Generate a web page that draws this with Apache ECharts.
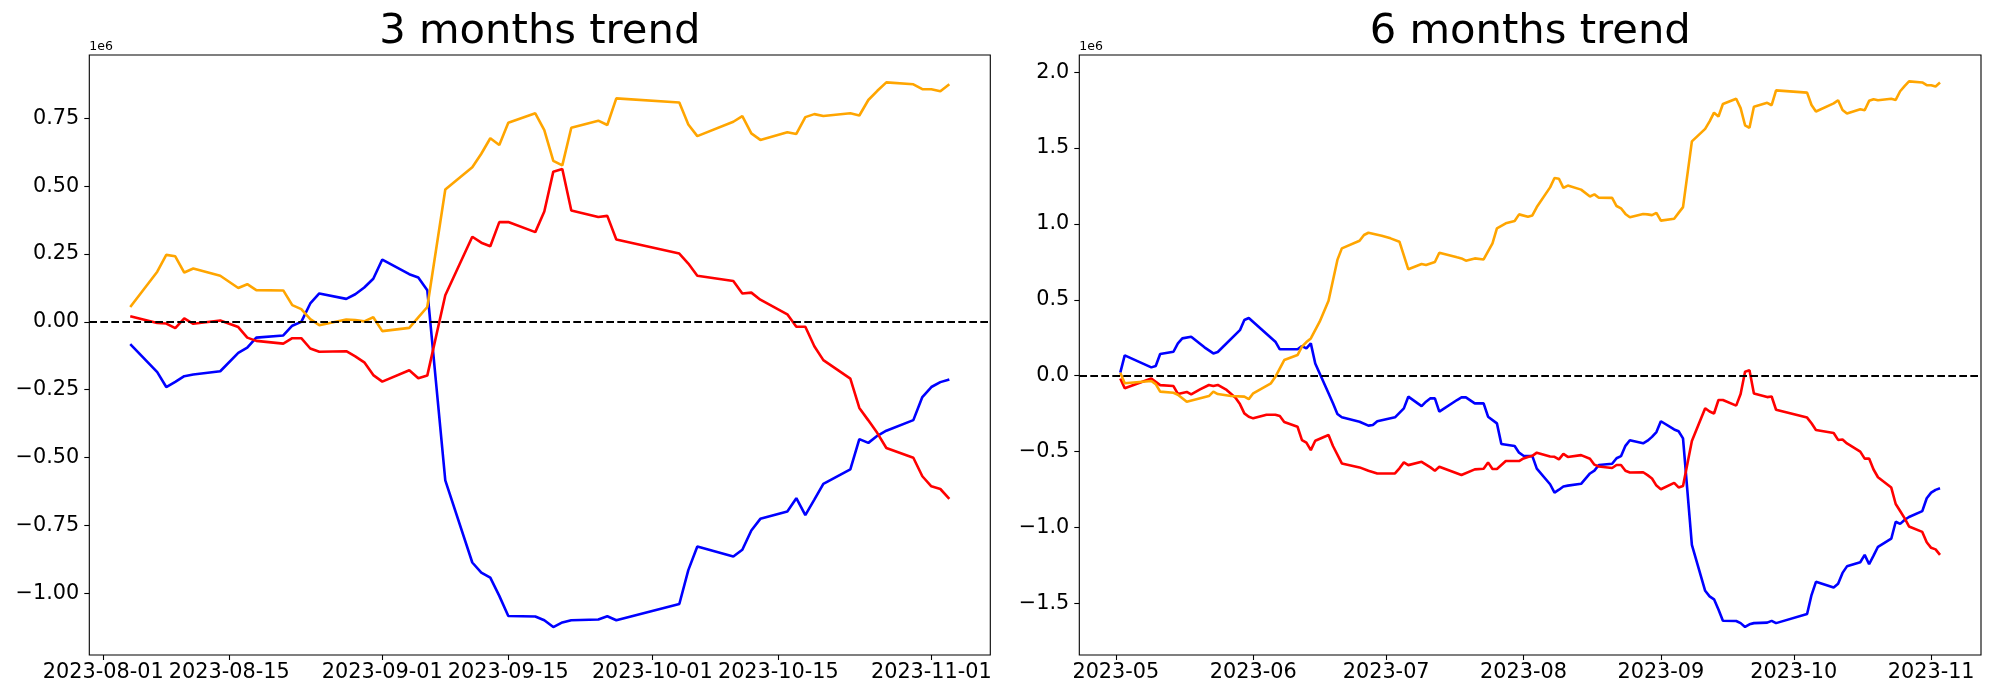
<!DOCTYPE html>
<html>
<head>
<meta charset="utf-8">
<script src="https://cdn.jsdelivr.net/npm/echarts@6/dist/echarts.min.js"></script>
<style>
html,body{margin:0;padding:0;background:#ffffff;}
#chart{width:2000px;height:700px;}
</style>
</head>
<body>
<div id="chart"></div>
<script>
// ---------------- data: 3 months trend (values in units of 1e6) ----------------
const threeMonthDates = ['2023-08-04','2023-08-07','2023-08-08','2023-08-09','2023-08-10','2023-08-11','2023-08-14','2023-08-16','2023-08-17','2023-08-18','2023-08-21','2023-08-22','2023-08-23','2023-08-24','2023-08-25','2023-08-28','2023-08-29','2023-08-30','2023-08-31',
  '2023-09-01','2023-09-04','2023-09-05','2023-09-06','2023-09-08','2023-09-11','2023-09-12','2023-09-13','2023-09-14','2023-09-15','2023-09-18','2023-09-19','2023-09-20','2023-09-21','2023-09-22','2023-09-25','2023-09-26','2023-09-27',
  '2023-10-04','2023-10-05','2023-10-06','2023-10-10','2023-10-11','2023-10-12','2023-10-13','2023-10-16','2023-10-17','2023-10-18','2023-10-19','2023-10-20','2023-10-23','2023-10-24','2023-10-25','2023-10-26','2023-10-27','2023-10-30','2023-10-31',
  '2023-11-01','2023-11-02','2023-11-03'];
const threeMonthBlue = [-0.082,-0.185,-0.240,-0.221,-0.200,-0.194,-0.182,-0.114,-0.095,-0.058,-0.050,-0.014,0.000,0.068,0.105,0.085,0.102,0.127,0.159,
  0.230,0.176,0.164,0.117,-0.584,-0.887,-0.924,-0.943,-1.010,-1.084,-1.086,-1.100,-1.125,-1.108,-1.100,-1.097,-1.085,-1.100,
  -1.040,-0.915,-0.828,-0.865,-0.840,-0.769,-0.726,-0.699,-0.650,-0.712,-0.655,-0.597,-0.544,-0.432,-0.446,-0.420,-0.401,-0.362,-0.277,
  -0.240,-0.222,-0.212];
const threeMonthRed = [0.021,-0.004,-0.006,-0.023,0.013,-0.007,0.005,-0.019,-0.058,-0.070,-0.080,-0.060,-0.060,-0.098,-0.110,-0.108,-0.127,-0.149,-0.196,
  -0.220,-0.178,-0.208,-0.198,0.098,0.314,0.292,0.279,0.368,0.368,0.331,0.407,0.554,0.564,0.411,0.387,0.391,0.304,
  0.252,0.215,0.170,0.151,0.105,0.108,0.082,0.028,-0.018,-0.018,-0.090,-0.141,-0.209,-0.317,-0.363,-0.410,-0.465,-0.501,-0.569,
  -0.606,-0.616,-0.652];
const threeMonthOrange = [0.055,0.185,0.247,0.242,0.182,0.197,0.170,0.125,0.139,0.117,0.116,0.062,0.047,0.010,-0.012,0.009,0.007,0.002,0.017,
  -0.034,-0.022,0.017,0.055,0.488,0.570,0.620,0.677,0.652,0.734,0.769,0.707,0.594,0.577,0.716,0.742,0.726,0.824,
  0.809,0.728,0.685,0.738,0.759,0.695,0.671,0.699,0.693,0.755,0.766,0.759,0.769,0.761,0.818,0.852,0.883,0.876,0.858,
  0.858,0.850,0.876];

// ---------------- data: 6 months trend (values in units of 1e6) ----------------
const sixMonthBlueDates = ['2023-05-02','2023-05-03','2023-05-09','2023-05-10','2023-05-11','2023-05-14','2023-05-15','2023-05-16','2023-05-18','2023-05-21','2023-05-23','2023-05-24','2023-05-29','2023-05-30','2023-05-31',
  '2023-06-06','2023-06-07','2023-06-11','2023-06-12','2023-06-13','2023-06-14','2023-06-15','2023-06-18','2023-06-19','2023-06-20','2023-06-21','2023-06-25','2023-06-27','2023-06-28','2023-06-29',
  '2023-07-03','2023-07-05','2023-07-06','2023-07-09','2023-07-10','2023-07-11','2023-07-12','2023-07-13','2023-07-17','2023-07-18','2023-07-19','2023-07-21','2023-07-23','2023-07-24','2023-07-26','2023-07-27','2023-07-30','2023-07-31',
  '2023-08-01','2023-08-02','2023-08-03'].concat(threeMonthDates);
const sixMonthBlue = [0.020,0.134,0.055,0.064,0.143,0.158,0.213,0.246,0.257,0.187,0.147,0.156,0.300,0.367,0.380,
  0.224,0.174,0.174,0.195,0.180,0.213,0.081,-0.116,-0.182,-0.252,-0.274,-0.303,-0.329,-0.325,-0.300,
  -0.274,-0.215,-0.138,-0.200,-0.171,-0.149,-0.149,-0.237,-0.160,-0.143,-0.143,-0.182,-0.182,-0.270,-0.314,-0.450,-0.463,-0.507,
  -0.527,-0.529,-0.530,
  -0.612,-0.715,-0.770,-0.751,-0.730,-0.724,-0.712,-0.644,-0.625,-0.588,-0.580,-0.544,-0.530,-0.462,-0.425,-0.445,-0.428,-0.403,-0.371,
  -0.300,-0.354,-0.366,-0.413,-1.114,-1.417,-1.454,-1.473,-1.540,-1.614,-1.616,-1.630,-1.655,-1.638,-1.630,-1.627,-1.615,-1.630,
  -1.570,-1.445,-1.358,-1.395,-1.370,-1.299,-1.256,-1.229,-1.180,-1.242,-1.185,-1.127,-1.074,-0.962,-0.976,-0.950,-0.931,-0.892,-0.807,
  -0.770,-0.752,-0.742];

const sixMonthRedDates = ['2023-05-02','2023-05-03','2023-05-09','2023-05-11','2023-05-14','2023-05-15','2023-05-17','2023-05-18','2023-05-20','2023-05-22','2023-05-23','2023-05-24','2023-05-26','2023-05-28','2023-05-29','2023-05-30','2023-05-31',
  '2023-06-01','2023-06-04','2023-06-06','2023-06-07','2023-06-08','2023-06-11','2023-06-12','2023-06-13','2023-06-14','2023-06-15','2023-06-18','2023-06-19','2023-06-21','2023-06-25','2023-06-27','2023-06-29',
  '2023-07-03','2023-07-04','2023-07-05','2023-07-06','2023-07-09','2023-07-11','2023-07-12','2023-07-13','2023-07-18','2023-07-21','2023-07-23','2023-07-24','2023-07-25','2023-07-26','2023-07-28','2023-07-31',
  '2023-08-01','2023-08-02','2023-08-03'].concat(threeMonthDates);
const sixMonthRed = [-0.018,-0.083,-0.018,-0.062,-0.068,-0.120,-0.107,-0.123,-0.090,-0.061,-0.068,-0.061,-0.094,-0.145,-0.187,-0.248,-0.270,
  -0.281,-0.257,-0.257,-0.266,-0.305,-0.336,-0.424,-0.441,-0.490,-0.428,-0.391,-0.463,-0.578,-0.604,-0.626,-0.644,
  -0.644,-0.610,-0.571,-0.589,-0.567,-0.604,-0.626,-0.600,-0.654,-0.617,-0.613,-0.571,-0.615,-0.615,-0.562,-0.562,
  -0.545,-0.535,-0.528,
  -0.507,-0.532,-0.534,-0.551,-0.515,-0.535,-0.523,-0.547,-0.586,-0.598,-0.608,-0.588,-0.588,-0.626,-0.638,-0.636,-0.655,-0.677,-0.724,
  -0.748,-0.706,-0.736,-0.726,-0.430,-0.214,-0.236,-0.249,-0.160,-0.160,-0.197,-0.121,0.026,0.036,-0.117,-0.141,-0.137,-0.224,
  -0.276,-0.313,-0.358,-0.377,-0.423,-0.420,-0.446,-0.500,-0.546,-0.546,-0.618,-0.669,-0.737,-0.845,-0.891,-0.938,-0.993,-1.029,-1.097,
  -1.134,-1.144,-1.180];

const sixMonthOrangeDates = ['2023-05-02','2023-05-03','2023-05-09','2023-05-10','2023-05-11','2023-05-14','2023-05-15','2023-05-17','2023-05-22','2023-05-23','2023-05-24','2023-05-27','2023-05-30','2023-05-31',
  '2023-06-01','2023-06-05','2023-06-06','2023-06-08','2023-06-11','2023-06-12','2023-06-13','2023-06-14','2023-06-16','2023-06-18','2023-06-20','2023-06-21','2023-06-25','2023-06-26','2023-06-27','2023-06-30',
  '2023-07-02','2023-07-04','2023-07-06','2023-07-09','2023-07-10','2023-07-12','2023-07-13','2023-07-17','2023-07-18','2023-07-19','2023-07-21','2023-07-23','2023-07-25','2023-07-26','2023-07-28','2023-07-30','2023-07-31',
  '2023-08-02','2023-08-03'].concat(threeMonthDates);
const sixMonthOrange = [0.020,-0.050,-0.035,-0.055,-0.105,-0.112,-0.125,-0.171,-0.134,-0.105,-0.121,-0.134,-0.138,-0.154,
  -0.116,-0.050,-0.007,0.103,0.136,0.191,0.222,0.246,0.356,0.494,0.763,0.839,0.889,0.927,0.942,0.922,
  0.905,0.883,0.701,0.736,0.729,0.749,0.810,0.780,0.773,0.758,0.773,0.766,0.872,0.971,1.004,1.019,1.063,
  1.047,1.056,
  1.111,1.241,1.303,1.298,1.238,1.253,1.226,1.181,1.195,1.173,1.172,1.118,1.103,1.066,1.044,1.065,1.063,1.058,1.073,
  1.022,1.034,1.073,1.111,1.544,1.626,1.676,1.733,1.708,1.790,1.825,1.763,1.650,1.633,1.772,1.798,1.782,1.880,
  1.865,1.784,1.741,1.794,1.815,1.751,1.727,1.755,1.749,1.811,1.822,1.815,1.825,1.817,1.874,1.908,1.939,1.932,1.914,
  1.914,1.906,1.932];

// ---------------- tick labels ----------------
const threeMonthTickLabels = ['2023-08-01','2023-08-15','2023-09-01','2023-09-15','2023-10-01','2023-10-15','2023-11-01'];
const sixMonthTickLabels = ['2023-05','2023-06','2023-07','2023-08','2023-09','2023-10','2023-11'];
const threeMonthYTicks = [0.75, 0.5, 0.25, 0, -0.25, -0.5, -0.75, -1.0];
const threeMonthYLabels = ['0.75','0.50','0.25','0.00','\u22120.25','\u22120.50','\u22120.75','\u22121.00'];
const sixMonthYTicks = [2.0, 1.5, 1.0, 0.5, 0, -0.5, -1.0, -1.5];
const sixMonthYLabels = ['2.0','1.5','1.0','0.5','0.0','\u22120.5','\u22121.0','\u22121.5'];

// ---------------- helpers ----------------
const DAY = 86400000;
const ts = s => Date.parse(s + 'T00:00:00Z');
const pairs = (dates, vals) => dates.map((d, i) => [ts(d), vals[i]]);
const lookup = (vals, labels) => v => {
  for (let i = 0; i < vals.length; i++) if (Math.abs(vals[i] - v) < 1e-6 * Math.max(1, Math.abs(v))) return labels[i];
  return '';
};
const FONT = 'DejaVu Sans';

const threeXTicks = threeMonthTickLabels.map(ts);
const sixXTicks = sixMonthTickLabels.map(l => ts(l + '-01'));

function makeX(gi, min, max, ticks, labels) {
  return {
    type: 'value', gridIndex: gi, min: min, max: max, scale: true,
    axisLine: { show: false, onZero: false },
    splitLine: { show: false },
    axisTick: { show: true, length: 5, lineStyle: { color: '#000', width: 1.1 }, customValues: ticks },
    axisLabel: { show: true, customValues: ticks, formatter: lookup(ticks, labels), margin: 7,
      color: '#000', fontSize: 20.8, fontFamily: FONT, hideOverlap: false }
  };
}
function makeY(gi, min, max, ticks, labels) {
  return {
    type: 'value', gridIndex: gi, min: min, max: max, scale: true,
    axisLine: { show: false, onZero: false },
    splitLine: { show: false },
    axisTick: { show: true, length: 5, lineStyle: { color: '#000', width: 1.1 }, customValues: ticks },
    axisLabel: { show: true, customValues: ticks, formatter: lookup(ticks, labels), margin: 10,
      color: '#000', fontSize: 20.8, fontFamily: FONT }
  };
}
function line(gi, data, color, extra) {
  return Object.assign({
    type: 'line', xAxisIndex: gi, yAxisIndex: gi, data: data,
    showSymbol: false, symbol: 'none', silent: true, animation: false,
    lineStyle: { color: color, width: 2.6 }, itemStyle: { color: color }
  }, extra || {});
}
const zeroLine = {
  markLine: {
    silent: true, animation: false, symbol: ['none', 'none'], label: { show: false },
    lineStyle: { color: '#000', width: 2.2, type: [7.7, 3.3] },
    data: [{ yAxis: 0 }]
  }
};

const option = {
  backgroundColor: '#ffffff',
  animation: false,
  grid: [
    { left: 89.3, top: 55, width: 901, height: 600, show: true, borderColor: '#000', borderWidth: 1.1, backgroundColor: 'transparent', containLabel: false },
    { left: 1079.3, top: 55, width: 901.7, height: 600, show: true, borderColor: '#000', borderWidth: 1.1, backgroundColor: 'transparent', containLabel: false }
  ],
  xAxis: [
    makeX(0, ts('2023-08-04') - 4.55 * DAY, ts('2023-11-03') + 4.55 * DAY, threeXTicks, threeMonthTickLabels),
    makeX(1, ts('2023-05-02') - 9.25 * DAY, ts('2023-11-03') + 9.25 * DAY, sixXTicks, sixMonthTickLabels)
  ],
  yAxis: [
    makeY(0, -1.228, 0.984, threeMonthYTicks, threeMonthYLabels),
    makeY(1, -1.840, 2.113, sixMonthYTicks, sixMonthYLabels)
  ],
  series: [
    line(0, pairs(threeMonthDates, threeMonthBlue), '#0000ff'),
    line(0, pairs(threeMonthDates, threeMonthRed), '#ff0000'),
    line(0, pairs(threeMonthDates, threeMonthOrange), '#ffa500', zeroLine),
    line(1, pairs(sixMonthBlueDates, sixMonthBlue), '#0000ff'),
    line(1, pairs(sixMonthRedDates, sixMonthRed), '#ff0000'),
    line(1, pairs(sixMonthOrangeDates, sixMonthOrange), '#ffa500', zeroLine)
  ],
  graphic: [
    { type: 'text', x: 539.8, y: 32.3, silent: true, style: { text: '3 months trend', fontSize: 41.7, fontFamily: FONT, fill: '#000', align: 'center', verticalAlign: 'middle' } },
    { type: 'text', x: 1530.2, y: 32.3, silent: true, style: { text: '6 months trend', fontSize: 41.7, fontFamily: FONT, fill: '#000', align: 'center', verticalAlign: 'middle' } },
    { type: 'text', x: 89.3, y: 46.4, silent: true, style: { text: '1e6', fontSize: 12.5, fontFamily: FONT, fill: '#000', align: 'left', verticalAlign: 'middle' } },
    { type: 'text', x: 1079.3, y: 46.4, silent: true, style: { text: '1e6', fontSize: 12.5, fontFamily: FONT, fill: '#000', align: 'left', verticalAlign: 'middle' } }
  ]
};

const chart = echarts.init(document.getElementById('chart'), null, { renderer: 'canvas', width: 2000, height: 700 });
chart.setOption(option);
</script>
</body>
</html>
